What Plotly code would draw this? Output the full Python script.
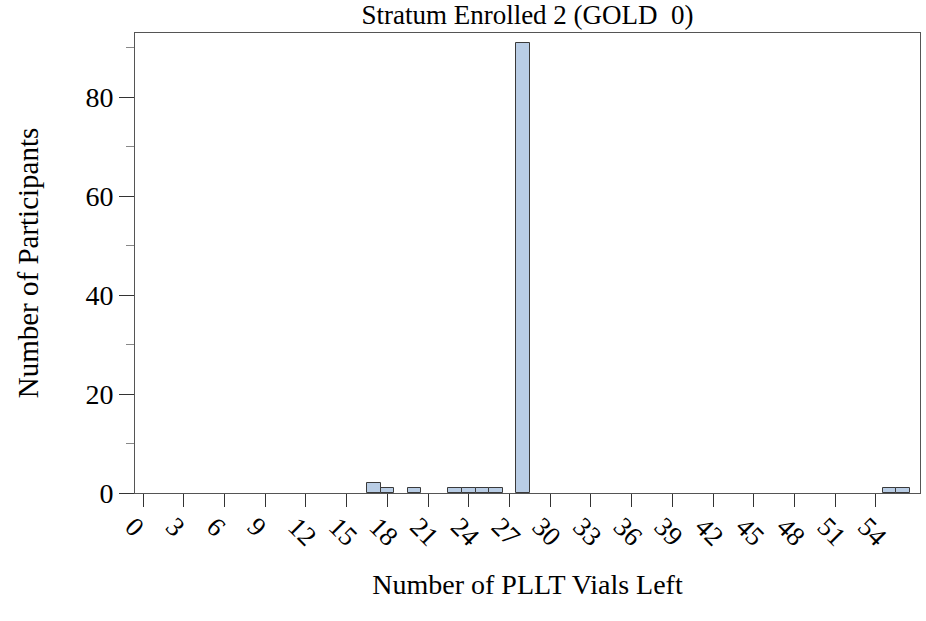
import plotly.graph_objects as go

# Data: bin centers (number of vials left) and counts
vials_left = [17, 18, 20, 23, 24, 25, 26, 28, 55, 56]
participants = [2, 1, 1, 1, 1, 1, 1, 91, 1, 1]
x_tick_values = list(range(0, 55, 3))
y_tick_values = [0, 20, 40, 60, 80]

title_text = "Stratum Enrolled 2 (GOLD\u00a0 0)"
x_title = "Number of PLLT Vials Left"
y_title = "Number of Participants"

font_family = "Liberation Serif, Times New Roman, serif"

fig = go.Figure()
fig.add_trace(go.Bar(
    x=vials_left,
    y=participants,
    width=1,
    marker=dict(color="#B9CDE5", line=dict(color="#3a3a3a", width=1)),
))

fig.update_layout(
    width=926, height=621,
    margin=dict(l=135, r=6, t=33, b=128),
    paper_bgcolor="white", plot_bgcolor="white",
    showlegend=False,
    font=dict(family=font_family, color="black"),
    title=dict(text=title_text, x=0.5, xanchor="center", xref="paper",
               y=1 - 15 / 621, yanchor="middle", yref="container",
               font=dict(size=27, family=font_family, color="black")),
    bargap=0,
)

fig.update_xaxes(
    range=[-0.6, 57.25],
    tickmode="array", tickvals=x_tick_values,
    ticktext=[str(v) for v in x_tick_values],
    tickangle=45,
    ticklabelshift=-10,
    ticklabelstandoff=-7,
    ticks="outside", ticklen=13, tickwidth=1, tickcolor="#333",
    tickfont=dict(size=27, family=font_family, color="black"),
    showline=True, linecolor="#555", linewidth=1, mirror=True,
    showgrid=False, zeroline=False,
    title=dict(text=x_title, standoff=23, font=dict(size=28, family=font_family, color="black")),
)

fig.update_yaxes(
    range=[0, 93],
    tickmode="array", tickvals=y_tick_values,
    ticks="outside", ticklen=15, tickwidth=1, tickcolor="#333",
    minor=dict(dtick=10, tick0=10, ticks="outside", ticklen=8, tickcolor="#888", tickwidth=1, showgrid=False),
    tickfont=dict(size=28, family=font_family, color="black"),
    showline=True, linecolor="#555", linewidth=1, mirror=True,
    showgrid=False, zeroline=False,
    title=dict(text=y_title, standoff=38, font=dict(size=29, family=font_family, color="black")),
)

fig.write_html("out.html")
